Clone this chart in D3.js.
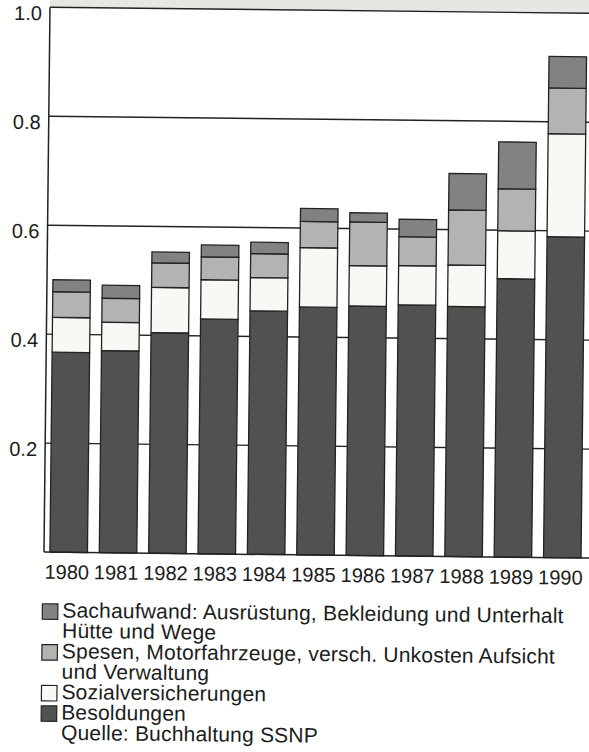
<!DOCTYPE html>
<html>
<head>
<meta charset="utf-8">
<script src="https://cdn.jsdelivr.net/npm/d3@7"></script>
<style>
  html, body { margin: 0; padding: 0; background: #ffffff; }
  svg { display: block; }
  text { font-family: "Liberation Sans", Arial, Helvetica, sans-serif; fill: #1c1c1c; }
</style>
</head>
<body>
<svg id="chart" width="589" height="752"></svg>
<script>
// ---- data ----
const years = ["1980","1981","1982","1983","1984","1985","1986","1987","1988","1989","1990"];
const besoldungen = [0.367, 0.371, 0.405, 0.431, 0.447, 0.455, 0.458, 0.461, 0.459, 0.511, 0.589];
const sozialversicherungen = [0.064, 0.052, 0.083, 0.072, 0.061, 0.109, 0.074, 0.072, 0.076, 0.088, 0.189];
const spesen = [0.047, 0.044, 0.045, 0.042, 0.044, 0.048, 0.080, 0.053, 0.101, 0.077, 0.084];
const sachaufwand = [0.022, 0.024, 0.020, 0.022, 0.021, 0.024, 0.017, 0.032, 0.067, 0.086, 0.058];
const yTicks = [0.2, 0.4, 0.6, 0.8, 1.0];
const yTickLabels = ["0.2", "0.4", "0.6", "0.8", "1.0"];
const seriesKeys = ["besoldungen", "sozial", "spesen", "sach"];
const seriesColors = ["#505250", "#f8f8f4", "#b2b4b2", "#808380"];
const legendItems = [
  { key: "sach", lines: ["Sachaufwand: Ausrüstung, Bekleidung und Unterhalt", "Hütte und Wege"] },
  { key: "spesen", lines: ["Spesen, Motorfahrzeuge, versch. Unkosten Aufsicht", "und Verwaltung"] },
  { key: "sozial", lines: ["Sozialversicherungen"] },
  { key: "besoldungen", lines: ["Besoldungen", "Quelle: Buchhaltung SSNP"] }
];

// ---- build table ----
const table = years.map((y, i) => ({
  year: y,
  besoldungen: besoldungen[i],
  sozial: sozialversicherungen[i],
  spesen: spesen[i],
  sach: sachaufwand[i]
}));
const stacked = d3.stack().keys(seriesKeys)(table);
const color = d3.scaleOrdinal().domain(seriesKeys).range(seriesColors);

// ---- layout ----
const svg = d3.select("#chart");
const g = svg.append("g").attr("transform", "rotate(0.63, 295, 280)");

const x = d3.scaleBand().domain(years).range([47, 590]).paddingInner(0.24).paddingOuter(0.12);
const y = d3.scaleLinear().domain([0, 1]).range([554.8, 10]);

// grey strip above chart (page edge in scan)
g.append("rect").attr("x", 47).attr("y", -30).attr("width", 580).attr("height", y(1) + 30)
  .attr("fill", "#e6e6e3");

// gridlines
g.append("g").selectAll("line").data(yTicks).join("line")
  .attr("x1", 47).attr("x2", 620)
  .attr("y1", d => y(d)).attr("y2", d => y(d))
  .attr("stroke", "#222").attr("stroke-width", 1.4);

// bars
g.append("g").selectAll("g").data(stacked).join("g")
  .attr("fill", d => color(d.key))
  .selectAll("rect").data(d => d).join("rect")
  .attr("x", d => x(d.data.year))
  .attr("width", x.bandwidth())
  .attr("y", d => y(d[1]))
  .attr("height", d => y(d[0]) - y(d[1]))
  .attr("stroke", "#222").attr("stroke-width", 1.3);

// axes lines
g.append("line").attr("x1", 47).attr("x2", 47).attr("y1", y(1)).attr("y2", y(0))
  .attr("stroke", "#222").attr("stroke-width", 1.5);
g.append("line").attr("x1", 47).attr("x2", 620).attr("y1", y(0)).attr("y2", y(0))
  .attr("stroke", "#222").attr("stroke-width", 1.5);

// y tick labels
g.append("g").selectAll("text").data(yTicks).join("text")
  .attr("x", 39).attr("y", d => y(d) + 13)
  .attr("text-anchor", "end").attr("font-size", 20)
  .text((d, i) => yTickLabels[i]);

// year labels
g.append("g").selectAll("text").data(years).join("text")
  .attr("x", d => x(d) + x.bandwidth() / 2 - 1.7)
  .attr("y", 581.5)
  .attr("text-anchor", "middle").attr("font-size", 20)
  .text(d => d);

// legend
const legendTop = 620;
const lineH = 20.4;
let row = 0;
const lg = g.append("g");
legendItems.forEach(item => {
  const base = legendTop + row * lineH;
  lg.append("rect").attr("x", 46).attr("y", base - 13.5).attr("width", 15.5).attr("height", 15.5)
    .attr("fill", color(item.key)).attr("stroke", "#222").attr("stroke-width", 1.2);
  item.lines.forEach((t, j) => {
    lg.append("text").attr("x", 66).attr("y", base + j * lineH)
      .attr("font-size", 21).attr("letter-spacing", 0.2).text(t);
  });
  row += item.lines.length;
});
</script>
</body>
</html>
